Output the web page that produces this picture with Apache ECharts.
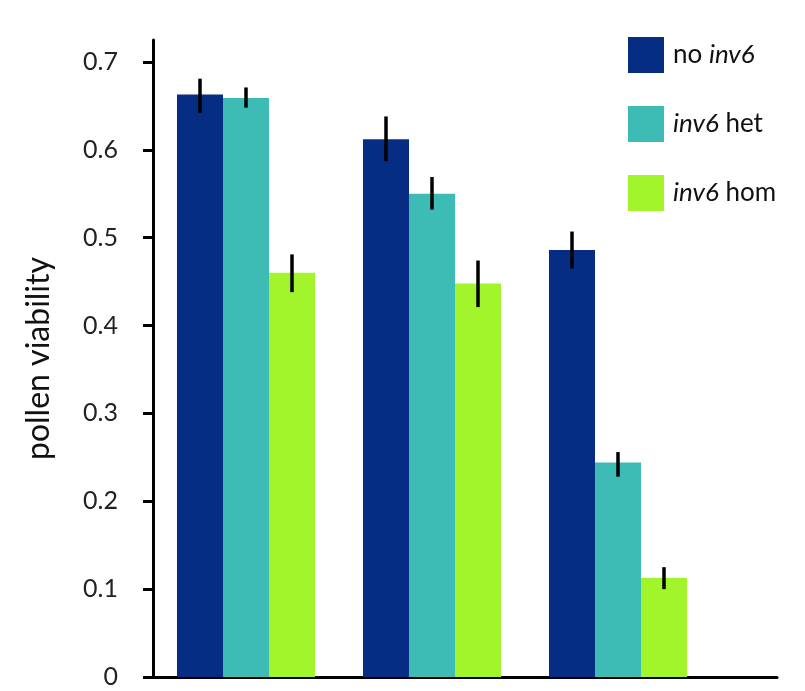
<!DOCTYPE html>
<html>
<head>
<meta charset="utf-8">
<script src="https://cdn.jsdelivr.net/npm/echarts@6/dist/echarts.min.js"></script>
<style>html,body{margin:0;padding:0;background:#fff}#c{width:805px;height:691px}</style>
</head>
<body>
<div id="c"></div>
<script>
const categories = ['1', '2', '3'];
const seriesNames = ['no inv6', 'inv6 het', 'inv6 hom'];
const noInv6 = [0.663, 0.612, 0.486];
const inv6Het = [0.659, 0.550, 0.244];
const inv6Hom = [0.460, 0.448, 0.113];
const noInv6Err = [[0.642, 0.681], [0.587, 0.638], [0.465, 0.507]];
const inv6HetErr = [[0.648, 0.671], [0.532, 0.569], [0.228, 0.256]];
const inv6HomErr = [[0.438, 0.481], [0.421, 0.474], [0.100, 0.125]];
const yTicks = [0, 0.1, 0.2, 0.3, 0.4, 0.5, 0.6, 0.7];

const colors = ['#062d84', '#3dbbb5', '#a2f52b'];
const values = [noInv6, inv6Het, inv6Hom];
const errs = [noInv6Err, inv6HetErr, inv6HomErr];
const BAR_W = 46;
const FONT = 'Lato';

const chart = echarts.init(document.getElementById('c'));

const series = [];
values.forEach((v, k) => {
  series.push({
    name: seriesNames[k], type: 'bar', xAxisIndex: 0, yAxisIndex: 0,
    data: v, barWidth: BAR_W, barGap: '0%',
    itemStyle: { color: colors[k] }, z: 2
  });
});
errs.forEach((e, k) => {
  series.push({
    type: 'custom', xAxisIndex: 0, yAxisIndex: 0, z: 5,
    data: e.map((d, i) => [i, d[0], d[1]]),
    renderItem: function (params, api) {
      const lo = api.coord([api.value(0), api.value(1)]);
      const hi = api.coord([api.value(0), api.value(2)]);
      const x = lo[0] + (k - 1) * BAR_W;
      return {
        type: 'line',
        shape: { x1: x, y1: lo[1], x2: x, y2: hi[1] },
        style: { stroke: '#000', lineWidth: 3.5 }
      };
    }
  });
});

const legendRich = {
  n: { fontFamily: FONT, fontSize: 26, color: '#111' },
  i: { fontFamily: FONT, fontSize: 26, color: '#111', fontStyle: 'italic' }
};

chart.setOption({
  animation: false,
  backgroundColor: '#fff',
  legend: {
    orient: 'vertical', left: 623, top: 32,
    itemWidth: 36, itemHeight: 36, itemGap: 33,
    icon: 'rect',
    data: seriesNames,
    formatter: function (name) {
      if (name === 'no inv6') return '{n|no }{i|inv6}';
      if (name === 'inv6 het') return '{i|inv6}{n| het}';
      return '{i|inv6}{n| hom}';
    },
    textStyle: { rich: legendRich, padding: [0, 0, 0, 4] }
  },
  grid: [
    { left: 153, top: 40, bottom: 14, right: 94 },
    { left: 153, top: 40, bottom: 14, right: 28 }
  ],
  xAxis: [
    { type: 'category', gridIndex: 0, data: categories,
      axisLine: { show: false }, axisTick: { show: false }, axisLabel: { show: false } },
    { type: 'value', gridIndex: 1, min: 0, max: 1,
      axisLine: { show: true, lineStyle: { color: '#000', width: 3 } },
      axisTick: { show: false }, axisLabel: { show: false }, splitLine: { show: false } }
  ],
  yAxis: [
    { type: 'value', gridIndex: 0, min: 0, max: 0.725,
      name: 'pollen viability', nameLocation: 'middle', nameGap: 98,
      nameTextStyle: { fontFamily: FONT, fontSize: 32, color: '#111' },
      axisLine: { show: true, lineStyle: { color: '#000', width: 3 } },
      axisTick: { show: true, length: 10, customValues: yTicks, lineStyle: { color: '#000', width: 3 } },
      axisLabel: { customValues: yTicks, margin: 35, fontFamily: FONT, fontSize: 25, color: '#222',
        formatter: function (v) { return String(Math.round(v * 10) / 10); } },
      splitLine: { show: false } },
    { type: 'value', gridIndex: 1, min: 0, max: 1, show: false }
  ],
  series: series
});
</script>
</body>
</html>
